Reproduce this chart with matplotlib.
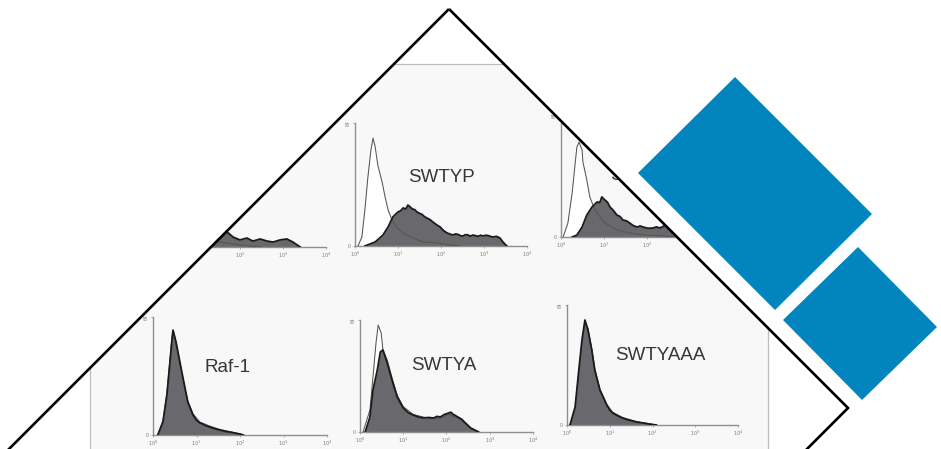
import numpy as np
import matplotlib
matplotlib.use("Agg")
import matplotlib.pyplot as plt
from matplotlib.path import Path
from matplotlib.patches import Polygon, PathPatch, Rectangle
from matplotlib.ticker import NullLocator

plt.rcParams['font.family'] = ['Liberation Sans', 'DejaVu Sans']

# ---- histogram data: log10 fluorescence (decades) and cell counts ----
tl_open_log = [0.05, 0.20, 0.40, 0.60, 0.80, 1.00, 1.40, 2.00, 2.50]
tl_open_cnt = [0, 10, 50, 30, 12, 6, 3, 1, 0]
tl_fill_log = [0.30, 0.50, 0.70, 0.90, 1.10, 1.30, 1.50, 1.70, 1.84, 2.00,
               2.16, 2.30, 2.47, 2.63, 2.77, 2.93, 3.09, 3.23, 3.40]
tl_fill_cnt = [0, 4, 10, 16, 20, 17, 12, 7.9, 5.2, 3.7,
               4.7, 3.1, 4.2, 3.1, 2.6, 3.7, 4.2, 2.6, 0]

swtyp_open_log = [0.07, 0.16, 0.23, 0.30, 0.37, 0.42, 0.47, 0.53, 0.63, 0.70,
                  0.77, 0.86, 0.98, 1.12, 1.35, 1.58, 1.91, 2.21, 2.44]
swtyp_open_cnt = [0, 4.7, 18.7, 35.9, 49.9, 56.2, 51.5, 42.1, 33.3, 25.5,
                  18.7, 13.5, 9.4, 6.8, 4.2, 2.1, 1.6, 0.5, 0]
swtyp_fill_log = [0.23, 0.47, 0.65, 0.77, 0.88, 1.00, 1.06, 1.12, 1.18, 1.23,
                  1.28, 1.33, 1.39, 1.44, 1.50, 1.56, 1.62, 1.67, 1.74, 1.81,
                  1.90, 1.98, 2.06, 2.14, 2.21, 2.28, 2.34, 2.40, 2.46, 2.51,
                  2.57, 2.62, 2.68, 2.74, 2.80, 2.86, 2.92, 2.98, 3.04, 3.10,
                  3.16, 3.21, 3.29, 3.37, 3.44, 3.53]
swtyp_fill_cnt = [0, 2.1, 5.7, 9.9, 15.1, 17.7, 18.3, 19.8, 19.2, 21.3,
                  20.4, 19.3, 18.9, 17.7, 17.0, 16.4, 15.2, 14.6, 13.8, 12.5,
                  11.0, 9.9, 8.0, 6.8, 6.2, 5.7, 6.3, 6.0, 5.3, 5.2,
                  5.9, 5.8, 5.1, 5.7, 5.4, 5.0, 5.6, 5.2, 5.6, 5.4,
                  4.9, 4.7, 5.0, 4.2, 2.1, 0]

tr_open_log = [0.05, 0.16, 0.26, 0.33, 0.37, 0.42, 0.49, 0.51, 0.60, 0.67,
               0.79, 0.91, 1.02, 1.30, 1.60, 2.00, 2.42, 2.70]
tr_open_cnt = [0, 7.3, 23.1, 38.8, 47.2, 49.8, 45.6, 39.3, 29.9, 21.0,
               14.2, 10.5, 7.3, 3.7, 2.1, 1.0, 0.5, 0]
tr_fill_log = [0.26, 0.37, 0.49, 0.60, 0.72, 0.84, 0.90, 0.95, 1.02, 1.08,
               1.14, 1.22, 1.30, 1.37, 1.44, 1.52, 1.60, 1.68, 1.77, 1.84,
               1.91, 2.02, 2.14, 2.22, 2.30, 2.38, 2.47, 2.60, 2.77, 3.00,
               3.23, 3.47]
tr_fill_cnt = [0, 1.0, 5.2, 11.5, 15.7, 18.4, 18.0, 21.0, 19.4, 18.3,
               15.7, 13.9, 11.5, 10.8, 8.9, 8.5, 7.3, 6.0, 5.2, 5.8,
               5.2, 4.6, 4.7, 5.3, 4.7, 5.6, 6.3, 7.3, 7.9, 6.3,
               3.7, 0]

raf_open_log = [0.11, 0.23, 0.32, 0.39, 0.44, 0.47, 0.53, 0.60, 0.69, 0.80,
                0.92, 1.08, 1.31, 1.54, 1.77, 2.00, 2.10]
raf_open_cnt = [0, 8.0, 23.0, 41.0, 53.5, 56.0, 49.0, 40.5, 30.0, 18.5,
                11.5, 7.0, 4.8, 3.0, 1.8, 0.6, 0]
raf_fill_log = [0.11, 0.23, 0.32, 0.39, 0.44, 0.46, 0.53, 0.60, 0.69, 0.80,
                0.92, 1.00, 1.08, 1.14, 1.20, 1.31, 1.42, 1.54, 1.66, 1.77,
                2.00, 2.07]
raf_fill_cnt = [0, 7.1, 21.7, 39.6, 52.6, 56.9, 50.4, 41.8, 30.9, 17.9,
                10.8, 8.0, 6.5, 6.0, 5.2, 4.3, 3.4, 2.7, 2.0, 1.6,
                0.5, 0]

swtya_open_log = [0.07, 0.23, 0.30, 0.37, 0.42, 0.49, 0.53, 0.63, 0.74, 0.86,
                  1.00, 1.23, 1.47, 1.70, 1.86, 2.05, 2.26, 2.44, 2.56, 2.74]
swtya_open_cnt = [0, 12.6, 31.4, 50.9, 61.1, 56.6, 46.9, 41.1, 31.0, 21.0,
                  14.5, 10.0, 8.5, 7.5, 8.0, 10.0, 8.0, 4.5, 2.0, 0]
swtya_fill_log = [0.12, 0.23, 0.30, 0.40, 0.47, 0.53, 0.63, 0.74, 0.86, 1.00,
                  1.12, 1.23, 1.35, 1.47, 1.58, 1.70, 1.78, 1.86, 1.95, 2.00,
                  2.05, 2.10, 2.15, 2.26, 2.35, 2.44, 2.56, 2.74]
swtya_fill_cnt = [0, 8.6, 24.0, 35.4, 45.7, 46.9, 39.4, 29.7, 20.0, 13.7,
                  11.0, 9.7, 8.6, 8.0, 8.3, 8.0, 8.9, 8.6, 10.0, 10.4,
                  10.9, 11.3, 10.2, 8.6, 7.3, 5.1, 2.3, 0]

aaa_open_log = [0.07, 0.19, 0.26, 0.35, 0.42, 0.49, 0.58, 0.65, 0.77, 0.93,
                1.07, 1.30, 1.63, 1.93, 2.09]
aaa_open_cnt = [0, 9.0, 24.5, 44.0, 55.0, 51.5, 40.5, 30.0, 19.0, 11.0,
                6.8, 4.0, 1.8, 0.6, 0]
aaa_fill_log = [0.07, 0.19, 0.26, 0.35, 0.42, 0.49, 0.58, 0.65, 0.77, 0.93,
                1.00, 1.07, 1.18, 1.30, 1.45, 1.63, 1.80, 1.93, 2.09]
aaa_fill_cnt = [0, 9.6, 25.6, 45.3, 56.0, 50.7, 40.0, 29.3, 18.7, 10.7,
                8.0, 6.4, 5.0, 3.7, 2.6, 1.6, 1.0, 0.5, 0]

panel_names = ['', 'SWTYP', 'SWTYF', 'Raf-1', 'SWTYA', 'SWTYAAA']
decade_ticks = [1, 10, 100, 1000, 10000]
decade_labels = ['$10^0$', '$10^1$', '$10^2$', '$10^3$', '$10^4$']
count_max = 64

# ---- layout (pixels) ----
W, H = 941, 449
# plot box per panel: x at 10^0, x at 10^4, top of y axis, baseline
boxes = [(154, 326, 125, 247), (355, 527, 123, 246), (561, 733, 115, 237),
         (153, 327, 317, 435), (360, 533, 320, 432), (567, 738, 305, 425)]
label_pos = [None, (441, 177, 'center'), (610, 176, 'left'),
             (228, 368, 'center'), (444, 365, 'center'), (660, 356, 'center')]

series = [
    (tl_open_log, tl_open_cnt, tl_fill_log, tl_fill_cnt),
    (swtyp_open_log, swtyp_open_cnt, swtyp_fill_log, swtyp_fill_cnt),
    (tr_open_log, tr_open_cnt, tr_fill_log, tr_fill_cnt),
    (raf_open_log, raf_open_cnt, raf_fill_log, raf_fill_cnt),
    (swtya_open_log, swtya_open_cnt, swtya_fill_log, swtya_fill_cnt),
    (aaa_open_log, aaa_open_cnt, aaa_fill_log, aaa_fill_cnt),
]

fig = plt.figure(figsize=(W / 100, H / 100), dpi=100)
fig.patch.set_facecolor('white')

# background sheet holding the panel grid
bg = fig.add_axes([0, 0, 1, 1], zorder=0)
bg.set_xlim(0, W)
bg.set_ylim(H, 0)
bg.axis('off')
bg.add_patch(Rectangle((90, 64), 678, 500, facecolor='#f8f8f8',
                       edgecolor='#bdbdbd', lw=0.9))

axis_grey = '#8f8f8f'
for (x0, x1, yt, yb), (olog, ocnt, flog, fcnt), name, lp in zip(
        boxes, series, panel_names, label_pos):
    ax = fig.add_axes([x0 / W, 1 - yb / H, (x1 - x0) / W, (yb - yt) / H],
                      zorder=1)
    ax.set_facecolor('none')
    ax.set_xscale('log')
    ax.set_xlim(1, 1e4)
    ax.set_ylim(0, count_max)
    xo = 10 ** np.asarray(olog)
    xf = 10 ** np.asarray(flog)
    ax.fill_between(xo, ocnt, color='white', lw=0, zorder=1)
    ax.fill_between(xf, fcnt, color='#69696d', lw=0, zorder=2)
    ax.plot(xo, ocnt, color='#555555', lw=0.75, zorder=3)
    ax.plot(xf, fcnt, color='#1a1a1a', lw=1.3, zorder=4)
    for s in ('top', 'right'):
        ax.spines[s].set_visible(False)
    for s in ('left', 'bottom'):
        ax.spines[s].set_color(axis_grey)
        ax.spines[s].set_linewidth(1.0)
    ax.set_xticks(decade_ticks)
    ax.set_xticklabels(decade_labels)
    ax.xaxis.set_minor_locator(NullLocator())
    ax.set_yticks([0, count_max])
    ax.set_yticklabels(['0', str(count_max)])
    ax.tick_params(axis='both', length=1.5, width=0.5, color=axis_grey,
                   labelsize=3.6, labelcolor='#7a7a7a', pad=1.5)
    ax.get_yticklabels()[1].set_rotation(90)
    ax.get_yticklabels()[1].set_va('center')
    if lp is not None:
        bg.text(lp[0], lp[1], name, ha=lp[2], va='center', fontsize=13.5,
                color='#363636')

# overlay: white mask outside the frame, frame outline, blue tiles
ov = fig.add_axes([0, 0, 1, 1], zorder=5)
ov.set_xlim(0, W)
ov.set_ylim(H, 0)
ov.axis('off')

frame = [(449, 9), (848, 408), (148, 1108), (-251, 709)]
outer = [(-20, -20), (W + 20, -20), (W + 20, H + 20), (-20, H + 20)]
inner = [frame[0], frame[3], frame[2], frame[1]]
verts = outer + [outer[0]] + inner + [inner[0]]
codes = ([Path.MOVETO] + [Path.LINETO] * 3 + [Path.CLOSEPOLY]) * 2
ov.add_patch(PathPatch(Path(verts, codes), facecolor='white',
                       edgecolor='none'))
ov.add_patch(Polygon(frame, closed=True, fill=False, edgecolor='black',
                     lw=1.9, joinstyle='miter'))

blue = '#0285bf'
ov.add_patch(Polygon([(735, 77), (872, 214), (775, 310), (638, 173)],
                     closed=True, facecolor=blue, edgecolor='none'))
ov.add_patch(Polygon([(858, 247), (937, 327), (862, 400), (783, 320)],
                     closed=True, facecolor=blue, edgecolor='none'))

fig.savefig('out.png', dpi=100, facecolor='white')
